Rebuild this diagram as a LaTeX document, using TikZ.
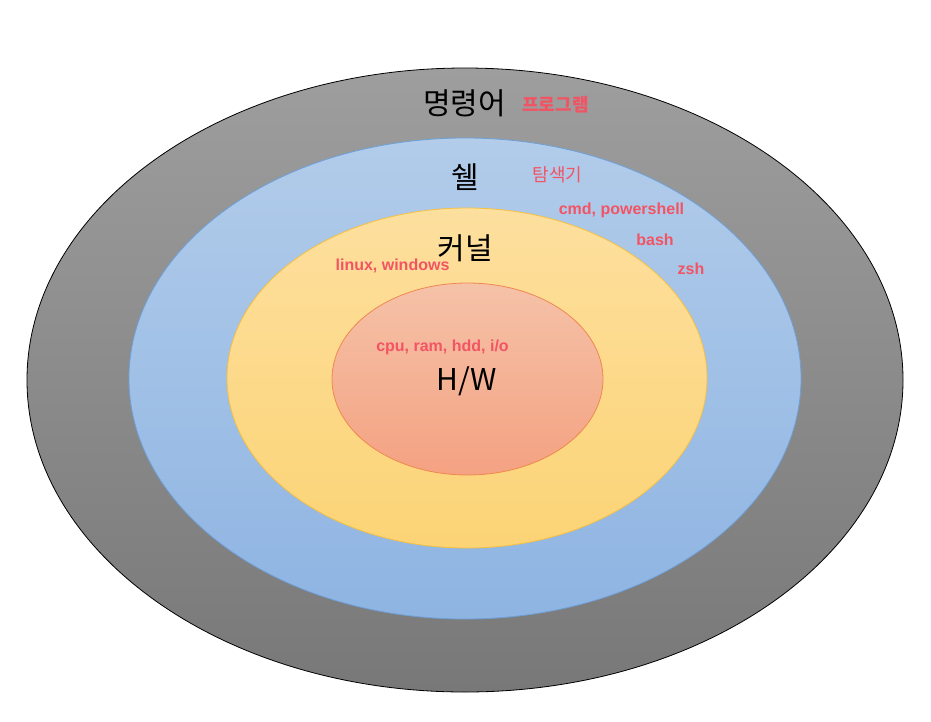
\documentclass[tikz,border=0pt]{standalone}
\usepackage{fontspec}
\usetikzlibrary{shapes.geometric}
\newfontfamily\krfont{Noto Sans CJK KR}
\newfontfamily\labfont{Liberation Sans}[BoldFont={Liberation Sans Bold}]
\definecolor{redtxt}{RGB}{242,84,100}
\begin{document}
\begin{tikzpicture}[x=1pt,y=-1pt,
  ring/.style={ellipse,inner sep=0pt,line width=0.8pt},
  bigtxt/.style={font=\krfont\fontsize{30}{34}\selectfont,text=black,inner sep=0pt},
  redlab/.style={font=\labfont\bfseries\fontsize{16}{18}\selectfont,text=redtxt,inner sep=0pt},
  redkr/.style={font=\krfont\bfseries\fontsize{18}{20}\selectfont,text=redtxt,inner sep=0pt}]
\useasboundingbox (0,0) rectangle (931,721);
\node[ring,draw=black,top color={rgb,255:red,158;green,158;blue,158},bottom color={rgb,255:red,120;green,120;blue,120},minimum width=876,minimum height=624] (outer) at (465,380) {};
\node[ring,draw={rgb,255:red,110;green,160;blue,216},top color={rgb,255:red,178;green,204;blue,234},bottom color={rgb,255:red,142;green,180;blue,226},minimum width=672,minimum height=481] (shell) at (465,378.5) {};
\node[ring,draw={rgb,255:red,246;green,192;blue,64},top color={rgb,255:red,253;green,223;blue,158},bottom color={rgb,255:red,252;green,212;blue,118},minimum width=480,minimum height=340] (kernel) at (467,378) {};
\node[ring,draw={rgb,255:red,240;green,136;blue,80},top color={rgb,255:red,245;green,194;blue,168},bottom color={rgb,255:red,244;green,162;blue,130},minimum width=271,minimum height=192] (hw) at (467.5,379) {};
\node[bigtxt] (t1) at (464.5,103) {명령어};
\node[redkr] (t2) at (555.5,105) {프로그램};
\node[bigtxt] (t3) at (465,177) {쉘};
\node[redkr,font=\krfont\fontsize{18}{20}\selectfont] (t4) at (557.5,175) {탐색기};
\node[redlab] (t5) at (621.5,210) {cmd, powershell};
\node[redlab] (t6) at (655,240) {bash};
\node[redlab] (t7) at (691,269) {zsh};
\node[bigtxt] (t8) at (465.5,248) {커널};
\node[redlab] (t9) at (392.5,266) {linux, windows};
\node[redlab] (t10) at (442.5,347) {cpu, ram, hdd, i/o};
\node[bigtxt] (t11) at (466.5,381) {H/W};
\end{tikzpicture}
\end{document}
